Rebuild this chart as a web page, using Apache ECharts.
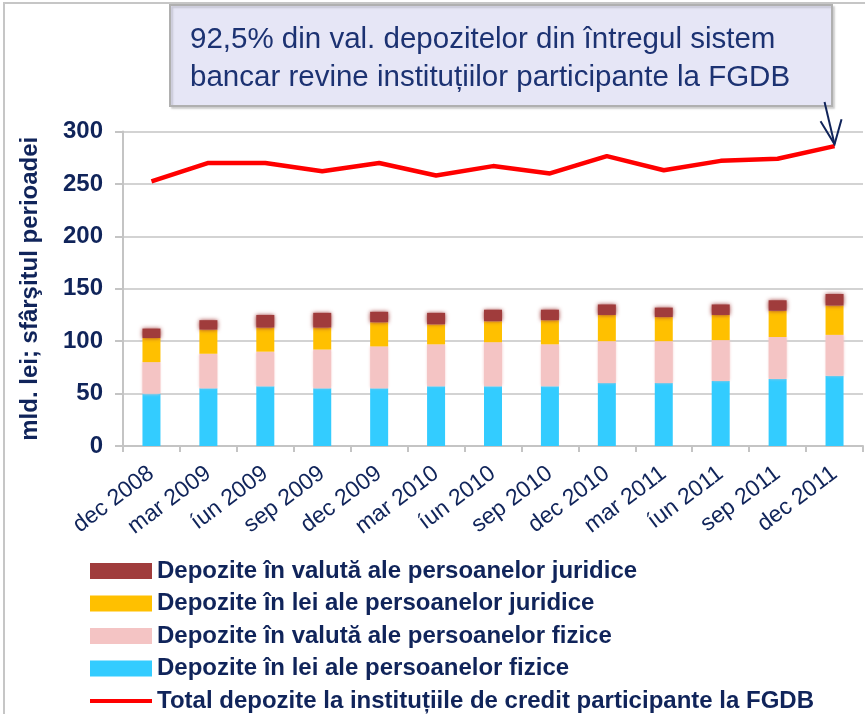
<!DOCTYPE html>
<html>
<head>
<meta charset="utf-8">
<title>Depozite FGDB</title>
<script src="https://cdn.jsdelivr.net/npm/echarts@6/dist/echarts.min.js"></script>
<style>
    html, body { margin: 0; padding: 0; background: #fff; }
    .chart { width: 865px; height: 714px; }
</style>
</head>
<body>
<div class="chart"></div>
<script>
// categorii (sfarsitul perioadei)
const categories = ['dec 2008', 'mar 2009', 'iun 2009', 'sep 2009', 'dec 2009', 'mar 2010', 'iun 2010',
    'sep 2010', 'dec 2010', 'mar 2011', 'iun 2011', 'sep 2011', 'dec 2011']
// eticheta afisata (cu í ca in original)
const tickLabels = ['dec 2008', 'mar 2009', 'íun 2009', 'sep 2009', 'dec 2009', 'mar 2010', 'íun 2010',
    'sep 2010', 'dec 2010', 'mar 2011', 'íun 2011', 'sep 2011', 'dec 2011']

// mld. lei
const leiFizice = [50, 55, 57, 55, 55, 57, 57, 57, 60, 60, 62, 64, 67]
const valutaFizice = [30, 33, 33, 37, 40, 40, 42, 40, 40, 40, 39, 40, 39]
const leiJuridice = [23, 23, 23, 21, 23, 19, 20, 23, 25, 23, 24, 25, 28]
const valutaJuridice = [9, 9, 12, 14, 10, 11, 11, 10, 10, 9, 10, 10, 11]
const totalFGDB = [252.5, 270, 270, 262, 270, 258, 267, 260, 276.5, 263, 272, 274, 286]

const yTicks = [0, 50, 100, 150, 200, 250, 300]

const names = [
    'Depozite în valută ale persoanelor juridice',
    'Depozite în lei ale persoanelor juridice',
    'Depozite în valută ale persoanelor fizice',
    'Depozite în lei ale persoanelor fizice',
    'Total depozite la instituțiile de credit participante la FGDB'
]

const navy = '#10245a'
const gridGray = '#d3d3d3'
const font = 'Liberation Sans, Arial, sans-serif'

// linie subtire in caseta de 62x16 a legendei (punctele din colturi tin cutia intreaga)
const lineIcon = 'path://M0,0L0.01,0Z M0,6L62,6L62,10L0,10Z M0,16L0.01,16Z'

const el = document.querySelector('.chart')
const myChart = echarts.init(el, null, { renderer: 'canvas' })

function barSeries(name, data, color, blur) {
    return {
        name: name,
        type: 'bar',
        stack: 'dep',
        data: data,
        barWidth: 18,
        itemStyle: {
            color: color,
            shadowBlur: blur,
            shadowColor: blur ? color : 'transparent'
        }
    }
}

const option = {
    animation: false,
    textStyle: { fontFamily: font },
    grid: { left: 123, right: 2, top: 131.5, bottom: 268, containLabel: false },
    legend: {
        orient: 'vertical',
        left: 90,
        top: 559,
        padding: 0,
        itemWidth: 62,
        itemHeight: 16,
        itemGap: 8.5,
        data: [
            { name: names[0], icon: 'rect' },
            { name: names[1], icon: 'rect' },
            { name: names[2], icon: 'rect' },
            { name: names[3], icon: 'rect' },
            { name: names[4], icon: lineIcon, itemStyle: { color: '#ff0000' } }
        ],
        textStyle: { color: navy, fontSize: 24, fontWeight: 'bold', lineHeight: 24 }
    },
    xAxis: {
        type: 'category',
        data: categories,
        boundaryGap: true,
        axisLine: { lineStyle: { color: '#c4c4c4', width: 2 } },
        axisTick: { show: true, length: 6, lineStyle: { color: '#c4c4c4', width: 2 } },
        axisLabel: {
            rotate: 37,
            margin: 25,
            color: navy,
            fontSize: 23,
            formatter: function (v, i) { return tickLabels[i] }
        }
    },
    yAxis: {
        type: 'value',
        min: yTicks[0],
        max: yTicks[yTicks.length - 1],
        interval: 50,
        name: 'mld. lei; sfârşitul perioadei',
        nameLocation: 'middle',
        nameGap: 81,
        nameTextStyle: { color: navy, fontSize: 24, fontWeight: 'bold' },
        axisLine: { show: true, lineStyle: { color: '#c4c4c4', width: 2 } },
        axisTick: { show: true, length: 8, lineStyle: { color: '#c4c4c4', width: 2 } },
        axisLabel: { color: navy, fontSize: 24, fontWeight: 'bold', margin: 20 },
        splitLine: { lineStyle: { color: gridGray, width: 2 } }
    },
    series: [
        barSeries(names[3], leiFizice, '#33ccff', 0),
        barSeries(names[2], valutaFizice, '#f4c4c4', 3),
        barSeries(names[1], leiJuridice, '#ffc000', 0),
        barSeries(names[0], valutaJuridice, '#a03c3c', 4),
        {
            name: names[4],
            type: 'line',
            data: totalFGDB,
            symbol: 'none',
            lineStyle: { color: '#ff0000', width: 4.5 },
            itemStyle: { color: '#ff0000' },
            z: 5
        }
    ]
}

myChart.setOption(option)

// caseta cu textul si sageata catre ultimul punct al liniei
const tip = myChart.convertToPixel({ seriesIndex: 4 }, [categories.length - 1, totalFGDB[totalFGDB.length - 1]])
myChart.setOption({
    graphic: [
        {
            type: 'rect',
            shape: { x: 4, y: 3, width: 900, height: 800 },
            style: { fill: 'none', stroke: '#c6c6c6', lineWidth: 2 },
            silent: true,
            z: -1
        },
        {
            type: 'rect',
            shape: { x: 170, y: 5, width: 662, height: 101 },
            style: {
                fill: '#e6e6f6', stroke: '#b0b0b0', lineWidth: 2,
                shadowBlur: 2, shadowOffsetX: 2, shadowOffsetY: 2, shadowColor: 'rgba(0,0,0,0.15)'
            },
            z: 10
        },
        {
            type: 'text',
            x: 190,
            y: 21,
            style: {
                text: '92,5% din val. depozitelor din întregul sistem\nbancar revine instituțiilor participante la FGDB',
                fill: '#1c3272',
                fontSize: 29.5,
                lineHeight: 38,
                fontFamily: font
            },
            z: 11
        },
        {
            type: 'polyline',
            shape: { points: [[tip[0] - 10, 102], [tip[0], tip[1] - 2]] },
            style: { stroke: '#10245a', lineWidth: 2, fill: 'none' },
            z: 11
        },
        {
            type: 'polyline',
            shape: { points: [[tip[0] - 14, tip[1] - 25], [tip[0], tip[1] - 2], [tip[0] + 7, tip[1] - 27]] },
            style: { stroke: '#10245a', lineWidth: 2, fill: 'none' },
            z: 11
        }
    ]
})

window.addEventListener('resize', () => {
    myChart.resize()
})
</script>
</body>
</html>
